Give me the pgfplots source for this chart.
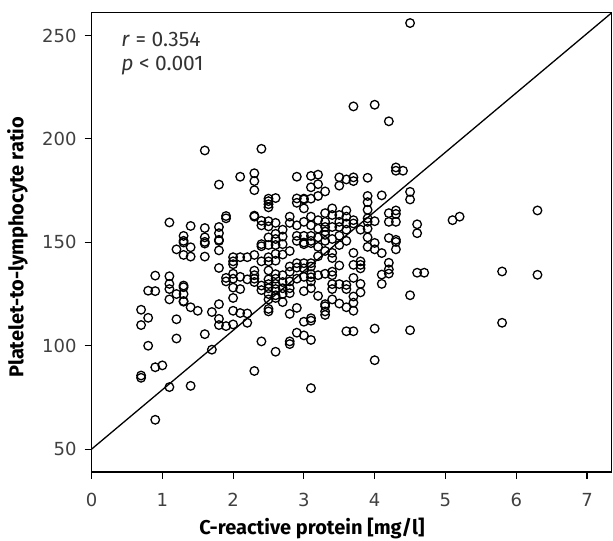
\documentclass[border=0pt]{standalone}
\usepackage{pgfplots}
\pgfplotsset{compat=1.18}
\usepackage{pgfplotstable}
\usepackage{fontspec}
\setmainfont{Fira Sans}
\newfontfamily\tickfont{DejaVu Sans}
\pgfplotstableread{
x y
0.7 117.4
0.7 110.0
0.7 85.6
0.7 84.5
0.8 126.6
0.8 113.5
0.8 100.0
0.9 133.9
0.9 126.4
0.9 89.6
0.9 64.2
1.0 90.5
1.1 159.6
1.1 133.6
1.1 129.9
1.1 127.4
1.1 122.4
1.1 80.0
1.2 146.6
1.2 125.0
1.2 112.8
1.2 103.5
1.3 153.1
1.3 150.7
1.3 149.9
1.3 143.9
1.3 129.1
1.3 128.3
1.3 125.0
1.3 121.6
1.3 121.3
1.4 157.9
1.4 147.6
1.4 143.1
1.4 118.6
1.4 80.6
1.5 116.9
1.6 194.4
1.6 156.9
1.6 152.4
1.6 150.2
1.6 149.4
1.6 143.1
1.6 105.6
1.7 116.3
1.7 98.1
1.8 177.9
1.8 157.4
1.8 154.4
1.8 151.2
1.8 150.7
1.8 146.1
1.8 137.6
1.8 120.1
1.8 113.0
1.8 110.0
1.9 162.7
1.9 161.6
1.9 132.8
1.9 131.1
1.9 109.5
2.0 142.8
2.0 140.8
2.0 139.4
2.0 134.8
2.0 132.4
2.0 128.1
2.0 123.1
2.0 116.9
2.0 110.3
2.1 181.7
2.1 142.8
2.1 133.3
2.1 127.4
2.1 115.8
2.2 142.8
2.2 132.1
2.2 115.6
2.2 111.1
2.3 183.4
2.3 179.6
2.3 175.2
2.3 162.9
2.3 162.4
2.3 143.9
2.3 136.3
2.3 134.1
2.3 132.4
2.3 130.8
2.3 87.8
2.4 195.2
2.4 160.4
2.4 158.2
2.4 149.1
2.4 148.1
2.4 140.8
2.4 129.1
2.4 126.9
2.4 102.1
2.5 171.1
2.5 169.9
2.5 168.4
2.5 166.9
2.5 160.2
2.5 157.7
2.5 152.4
2.5 148.7
2.5 142.8
2.5 140.8
2.5 136.4
2.5 132.1
2.5 129.8
2.5 127.8
2.5 125.0
2.5 122.4
2.5 117.8
2.5 116.6
2.6 171.4
2.6 159.4
2.6 154.1
2.6 151.6
2.6 148.7
2.6 144.4
2.6 141.1
2.6 134.6
2.6 132.4
2.6 129.9
2.6 127.4
2.6 124.4
2.6 123.1
2.6 97.1
2.7 156.1
2.7 152.8
2.7 149.1
2.7 144.1
2.7 134.1
2.7 130.8
2.7 127.8
2.7 125.1
2.7 121.1
2.8 162.4
2.8 159.4
2.8 145.8
2.8 138.3
2.8 135.8
2.8 131.1
2.8 127.8
2.8 125.4
2.8 115.4
2.8 102.1
2.8 100.8
2.9 181.7
2.9 171.2
2.9 169.1
2.9 158.2
2.9 153.1
2.9 150.7
2.9 139.9
2.9 137.8
2.9 132.4
2.9 118.3
2.9 106.3
3.0 171.1
3.0 170.7
3.0 166.4
3.0 159.9
3.0 153.1
3.0 149.9
3.0 149.1
3.0 139.9
3.0 137.4
3.0 133.3
3.0 126.4
3.0 111.6
3.0 105.0
3.1 182.1
3.1 176.6
3.1 171.1
3.1 162.4
3.1 158.2
3.1 153.1
3.1 150.7
3.1 149.6
3.1 139.9
3.1 138.3
3.1 134.6
3.1 133.1
3.1 131.1
3.1 127.8
3.1 113.3
3.1 112.1
3.1 102.8
3.1 79.5
3.2 182.7
3.2 178.1
3.2 172.4
3.2 160.7
3.2 156.6
3.2 152.4
3.2 147.8
3.2 143.3
3.2 134.1
3.2 124.1
3.3 174.6
3.3 164.1
3.3 159.9
3.3 157.4
3.3 155.2
3.3 153.6
3.3 150.7
3.3 145.8
3.3 134.8
3.3 120.1
3.3 119.1
3.3 116.6
3.3 114.9
3.4 166.4
3.4 163.2
3.4 157.4
3.4 151.6
3.4 144.9
3.4 142.4
3.4 135.8
3.4 134.1
3.4 129.8
3.4 127.4
3.4 122.4
3.5 181.4
3.5 177.4
3.5 163.2
3.5 159.9
3.5 157.4
3.5 153.2
3.5 148.7
3.5 138.8
3.5 129.8
3.5 120.4
3.6 180.4
3.6 165.4
3.6 162.4
3.6 159.1
3.6 156.1
3.6 150.7
3.6 129.4
3.6 127.4
3.6 118.6
3.6 107.0
3.7 215.7
3.7 181.4
3.7 179.6
3.7 160.7
3.7 159.1
3.7 144.9
3.7 139.1
3.7 132.8
3.7 123.8
3.7 120.8
3.7 116.9
3.7 107.0
3.8 156.1
3.8 140.8
3.8 139.1
3.8 137.4
3.8 129.9
3.8 125.8
3.9 181.2
3.9 172.4
3.9 169.4
3.9 165.7
3.9 161.6
3.9 159.9
3.9 156.6
3.9 152.4
3.9 147.8
4.0 216.5
4.0 160.2
4.0 149.7
4.0 146.6
4.0 108.3
4.0 93.0
4.1 172.7
4.1 144.8
4.1 134.4
4.1 129.9
4.2 208.5
4.2 164.1
4.2 159.9
4.2 152.1
4.2 140.1
4.2 136.9
4.2 134.9
4.3 186.2
4.3 184.6
4.3 165.4
4.3 163.7
4.3 159.9
4.3 151.2
4.3 150.2
4.3 146.6
4.4 184.6
4.5 256.0
4.5 174.4
4.5 170.7
4.5 124.4
4.5 107.5
4.6 158.7
4.6 154.4
4.6 135.3
4.7 135.3
5.1 160.7
5.2 162.4
5.8 135.9
5.8 111.1
6.3 165.4
6.3 134.3
}\pts
\begin{document}
\begin{tikzpicture}
\begin{axis}[
  scale only axis,
  width=260pt, height=229.5pt,
  xmin=0, xmax=7.35, ymin=39, ymax=261,
  xtick={0,1,...,7}, ytick={50,100,...,250},
  tick align=outside,
  xtick pos=bottom, ytick pos=left,
  major tick length=3.5pt,
  tick style={black, line width=0.6pt},
  axis line style={line width=0.6pt},
  /pgf/number format/assume math mode=true,
  ticklabel style={font=\tickfont\fontsize{9}{10}\selectfont, text=black!75},
  xticklabel style={yshift=-3.5pt},
  yticklabel style={xshift=-0.5pt},
  clip=true,
]
\addplot[only marks, mark=o, mark size=2.15pt, line width=0.65pt, black] table[x=x,y=y] {\pts};
\addplot[black, line width=0.65pt] coordinates {(0,50) (7.35,261)};
\node[anchor=base west, inner sep=0pt, font=\fontsize{10.5}{12}\selectfont, text=black!80] at (axis cs:0.417,244.6) {\textit{r} = 0.354};
\node[anchor=base west, inner sep=0pt, font=\fontsize{10.5}{12}\selectfont, text=black!80] at (axis cs:0.417,233) {\textit{p} < 0.001};
\end{axis}
\node[anchor=center, font=\bfseries\fontsize{10}{12}\selectfont] at ([xshift=-19.8pt,yshift=-28.3pt]current axis.south) {C-reactive protein [mg/l]};
\node[anchor=center, rotate=90, font=\bfseries\fontsize{10}{12}\selectfont] at ([xshift=-37pt,yshift=-2.5pt]current axis.west) {Platelet-to-lymphocyte ratio};
\pgfresetboundingbox
\path ([xshift=-45.75pt,yshift=-34.1pt]current axis.south west) rectangle ([xshift=0.6pt,yshift=6.35pt]current axis.north east);
\end{tikzpicture}
\end{document}
